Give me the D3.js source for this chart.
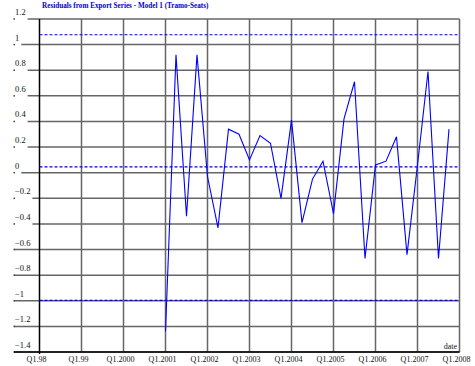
<!DOCTYPE html>
<html>
<head>
<meta charset="utf-8">
<script src="https://cdn.jsdelivr.net/npm/d3@7"></script>
<style>
  body { margin: 0; background: #fff; }
  svg { display: block; }
</style>
</head>
<body>
<svg></svg>
<script>
// chart data
let title = "Residuals from Export Series - Model 1 (Tramo-Seats)"
let startYear = 2001
// quarterly residuals, Q1.2001 .. Q4.2007
let residuals = [
  -1.24, 0.92, -0.34, 0.92,
  -0.03, -0.43, 0.34, 0.30,
  0.10, 0.29, 0.23, -0.20,
  0.41, -0.39, -0.05, 0.09,
  -0.32, 0.42, 0.71, -0.67,
  0.06, 0.09, 0.28, -0.64,
  0.06, 0.79, -0.67, 0.34
]
// dashed reference lines (limits and mean)
let refLines = [1.077, 0.045, -0.997]
let xYears = [1998, 1999, 2000, 2001, 2002, 2003, 2004, 2005, 2006, 2007, 2008]
let xTickLabels = ["Q1.98", "Q1.99", "Q1.2000", "Q1.2001", "Q1.2002", "Q1.2003",
                   "Q1.2004", "Q1.2005", "Q1.2006", "Q1.2007", "Q1.2008"]
let yTicks = [1.2, 1, 0.8, 0.6, 0.4, 0.2, 0, -0.2, -0.4, -0.6, -0.8, -1, -1.2, -1.4]

let width = 475
let height = 366
let plotLeft = 39.5, plotRight = 459.5, plotTop = 19, plotBottom = 352

let svg = d3.select("svg").attr("width", width).attr("height", height)

let xScale = d3.scaleLinear().domain([1998, 2008]).range([plotLeft, plotRight])
let yScale = d3.scaleLinear().domain([-1.4, 1.2]).range([plotBottom, plotTop])

let fmt = d => d3.format("")(d)

let gridG = svg.append("g")
let labelG = svg.append("g")

// horizontal grid + y labels
yTicks.forEach(v => {
  let y = yScale(v)
  let txt = labelG.append("text")
    .attr("x", 15)
    .attr("y", y - 4)
    .attr("font-family", "Liberation Serif, serif")
    .attr("font-size", 8.5)
    .attr("fill", "#111")
    .text(fmt(v))
  let w = txt.node().getComputedTextLength()
  // upper labels hide the line under them, lower ones do not
  let x0 = v > -0.5 ? 15 + w + 2 : 14
  gridG.append("line")
    .attr("x1", x0).attr("x2", plotRight)
    .attr("y1", y).attr("y2", y)
    .attr("stroke", "#666").attr("stroke-width", 1.5)
  gridG.append("rect")
    .attr("x", 13.5).attr("y", y - 0.75).attr("width", 1.5).attr("height", 1.5)
    .attr("fill", "#444")
})

// vertical grid
gridG.selectAll("line.v")
  .data(xYears.slice(1))
  .enter().append("line")
  .attr("class", "v")
  .attr("x1", d => xScale(d)).attr("x2", d => xScale(d))
  .attr("y1", plotTop).attr("y2", plotBottom)
  .attr("stroke", "#666").attr("stroke-width", 1.5)

// axes
svg.append("line")
  .attr("x1", plotLeft).attr("x2", plotLeft).attr("y1", plotTop).attr("y2", plotBottom + 2)
  .attr("stroke", "#000").attr("stroke-width", 1.5)
svg.append("line")
  .attr("x1", 14).attr("x2", plotRight).attr("y1", plotBottom).attr("y2", plotBottom)
  .attr("stroke", "#000").attr("stroke-width", 1.5)

// x labels
svg.append("g").selectAll("text")
  .data(xYears)
  .enter().append("text")
  .attr("x", d => xScale(d) - 3)
  .attr("y", 362)
  .attr("text-anchor", "middle")
  .attr("font-family", "Liberation Serif, serif")
  .attr("font-size", 8)
  .attr("fill", "#111")
  .text((d, i) => xTickLabels[i])

svg.append("text")
  .attr("x", 457).attr("y", 349)
  .attr("text-anchor", "end")
  .attr("font-family", "Liberation Serif, serif")
  .attr("font-size", 8)
  .attr("fill", "#111")
  .text("date")

// dashed reference lines
svg.append("g").selectAll("line")
  .data(refLines)
  .enter().append("line")
  .attr("x1", plotLeft).attr("x2", plotRight)
  .attr("y1", d => yScale(d)).attr("y2", d => yScale(d))
  .attr("stroke", "#0000d0").attr("stroke-width", 1.2)
  .attr("stroke-dasharray", "3,2")

// residual line
let line = d3.line()
  .x((d, i) => xScale(startYear + i / 4))
  .y(d => yScale(d))
svg.append("path")
  .datum(residuals)
  .attr("d", line)
  .attr("fill", "none")
  .attr("stroke", "#0000ff")
  .attr("stroke-width", 1.1)

// title
svg.append("text")
  .attr("x", 42).attr("y", 8)
  .attr("font-family", "Liberation Serif, serif")
  .attr("font-weight", "bold")
  .attr("font-size", 7.2)
  .attr("fill", "#0000cc")
  .text(title)
</script>
</body>
</html>
